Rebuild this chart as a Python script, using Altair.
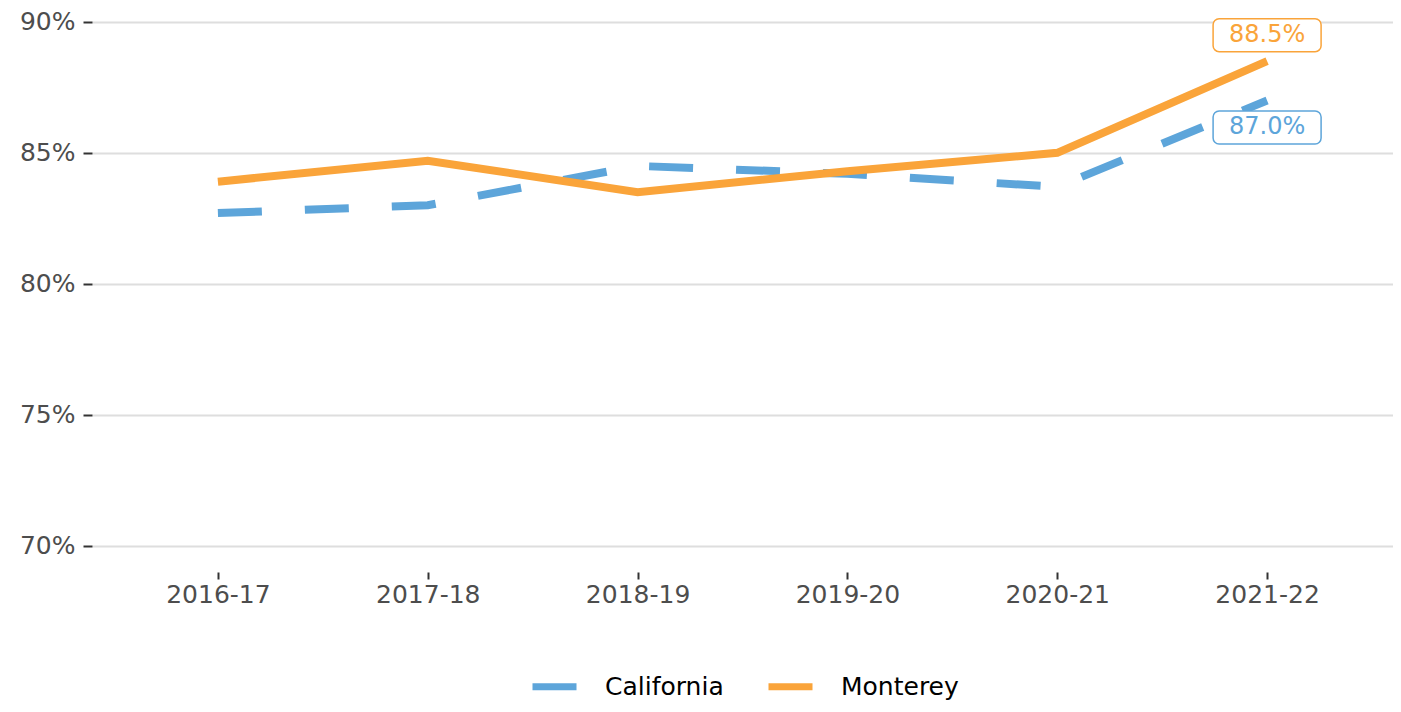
import altair as alt
import pandas as pd

years = ["2016-17", "2017-18", "2018-19", "2019-20", "2020-21", "2021-22"]
california = [82.7, 83.0, 84.5, 84.2, 83.7, 87.0]
monterey = [83.9, 84.7, 83.5, 84.3, 85.0, 88.5]
series = ["California", "Monterey"]
colors = ["#5DA5DA", "#FAA43A"]
y_ticks = [70, 75, 80, 85, 90]

rows = []
for s, vals in zip(series, [california, monterey]):
    for yr, v in zip(years, vals):
        rows.append({"year": yr, "series": s, "value": v, "label": f"{v:.1f}%"})
df = pd.DataFrame(rows)
last = df[df.year == years[-1]]

FONT = "DejaVu Sans"
color_scale = alt.Scale(domain=series, range=colors)

x_enc = alt.X(
    "year:N",
    sort=years,
    scale=alt.Scale(type="point", padding=0.6),
    axis=alt.Axis(
        title=None, labelAngle=0, domain=False, grid=False,
        ticks=True, tickSize=7, tickWidth=2, tickColor="#333333",
        labelFont=FONT, labelFontSize=25, labelColor="#4D4D4D", labelPadding=3,
    ),
)
y_enc = alt.Y(
    "value:Q",
    scale=alt.Scale(domain=[69, 90.3], nice=False, zero=False),
    axis=alt.Axis(
        title=None, values=y_ticks, labelExpr="datum.value + '%'",
        domain=False, grid=True, gridColor="#DEDEDE", gridWidth=2,
        ticks=True, tickSize=9, tickWidth=2, tickColor="#333333",
        labelFont=FONT, labelFontSize=25, labelColor="#4D4D4D", labelPadding=8,
    ),
)

legend = alt.Legend(
    title=None, orient="none", legendX=437, legendY=647,
    direction="horizontal", symbolType="stroke", symbolSize=1936,
    symbolStrokeWidth=7, labelFont=FONT, labelFontSize=25,
    labelColor="black", columnPadding=30, labelOffset=25,
)

line_ca = alt.Chart(df[df.series == "California"]).mark_line(
    strokeWidth=8, strokeCap="butt", strokeDash=[44, 43]
).encode(
    x=x_enc, y=y_enc,
    color=alt.Color("series:N", scale=color_scale, legend=legend),
    order=alt.Order("year:N"),
)
line_mo = alt.Chart(df[df.series == "Monterey"]).mark_line(
    strokeWidth=8, strokeCap="butt"
).encode(
    x=x_enc, y=y_enc,
    color=alt.Color("series:N", scale=color_scale, legend=legend),
    order=alt.Order("year:N"),
)

layers = [line_ca, line_mo]
for s, col, off in [("Monterey", colors[1], -26), ("California", colors[0], 27)]:
    sub = alt.Chart(last[last.series == s])
    box = sub.mark_rect(
        fill="white", stroke=col, strokeWidth=1.5, cornerRadius=6,
        xOffset=-54, x2Offset=54, yOffset=off - 16.5, y2Offset=off + 16.5,
    ).encode(x=x_enc, x2="year:N", y=y_enc, y2="value:Q")
    txt = sub.mark_text(
        color=col, font=FONT, fontSize=24, baseline="middle", align="center", yOffset=off,
    ).encode(x=x_enc, y=y_enc, text="label:N")
    layers += [box, txt]

chart = alt.layer(*layers).properties(
    width=1301,
    height=558,
    autosize=alt.AutoSizeParams(type="none"),
    padding={"left": 84, "top": 6, "right": 0, "bottom": 128},
    background="white",
).configure_view(stroke=None)

chart.save("out.html", embed_options={"renderer": "svg", "actions": False})
